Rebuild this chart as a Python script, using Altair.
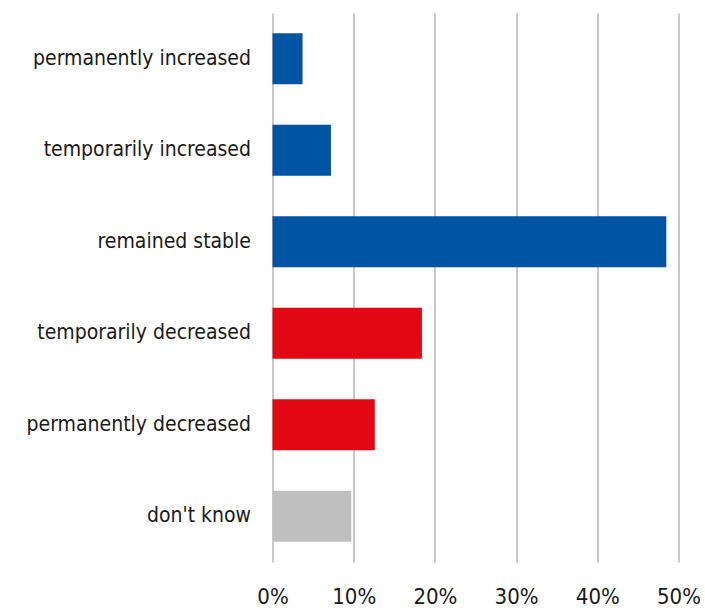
import altair as alt
import pandas as pd

categories = ["permanently increased", "temporarily increased", "remained stable",
              "temporarily decreased", "permanently decreased", "don't know"]
values = [0.037, 0.072, 0.485, 0.184, 0.126, 0.097]
groups = ["inc", "inc", "stable", "dec", "dec", "dk"]
group_colors = {"inc": "#0054A4", "stable": "#0054A4", "dec": "#E30613", "dk": "#BFBFBF"}
ticks = [0, 0.1, 0.2, 0.3, 0.4, 0.5]

df = pd.DataFrame({"category": categories, "value": values, "group": groups})

FONT = "DejaVu Sans Condensed, sans-serif"

chart = alt.Chart(df).mark_bar().encode(
    y=alt.Y("category:N", sort=categories,
            scale=alt.Scale(paddingInner=0.44, paddingOuter=0.22),
            axis=alt.Axis(title=None, ticks=False, domain=False, grid=False, labelFontSize=21,
                          labelFont=FONT, labelColor="#1a1a1a", labelPadding=22,
                          labelLimit=300)),
    x=alt.X("value:Q", scale=alt.Scale(domain=[0, 0.5], nice=False),
            axis=alt.Axis(title=None, values=ticks, format=".0%", ticks=False, domain=False,
                          grid=True, gridColor="#c8c8c8", gridWidth=2, labelFlush=False,
                          labelFontSize=22, labelFont=FONT, labelColor="#1a1a1a",
                          labelPadding=24)),
    color=alt.Color("group:N",
                    scale=alt.Scale(domain=list(group_colors.keys()),
                                    range=list(group_colors.values())),
                    legend=None),
).properties(
    width=406, height=549,
    padding={"left": 272.5, "top": 13, "right": 26.5, "bottom": 50},
    autosize=alt.AutoSizeParams(type="none"),
    background="white",
).configure_view(stroke=None, strokeWidth=0)

chart.save("out.html", embed_options={"renderer": "svg", "actions": False})
